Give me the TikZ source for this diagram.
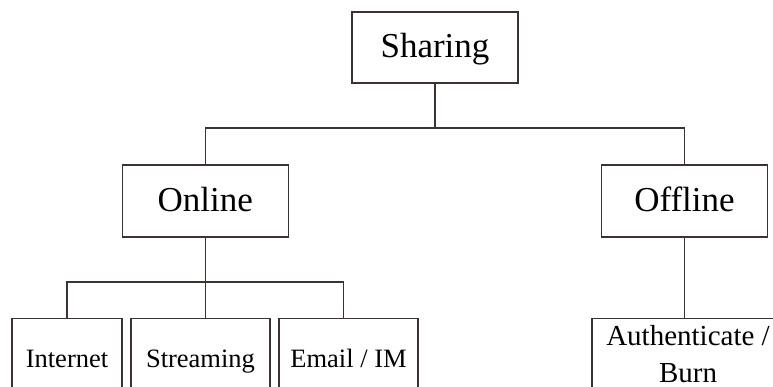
\documentclass[tikz,border=0pt]{standalone}
\usepackage{fontspec}
\setmainfont{Liberation Serif}
\definecolor{linegray}{RGB}{60,50,48}
\tikzset{
  box/.style={draw=linegray, line width=1.2pt, inner sep=0pt, minimum height=72pt},
  topbox/.style={box, minimum width=166pt, font=\fontsize{35}{40}\selectfont,
    text height=24pt, text depth=3.5pt},
  leafbox/.style={box, anchor=north, minimum height=80pt,
    font=\fontsize{26.5}{36.7}\selectfont, text height=20pt, text depth=2.6pt},
  link/.style={draw=linegray, line width=1.2pt}
}
\begin{document}
\begin{tikzpicture}[x=1pt,y=-1pt]
  \clip (0,0) rectangle (773,387);
  \fill[white] (0,0) rectangle (773,387);

  % Root and its two branches
  \node[topbox, minimum height=71pt] (sharing) at (435,47.5) {Sharing};
  \node[topbox] (online) at (205.3,201) {Online};
  \node[topbox] (offline) at (684.5,201) {Offline};

  % Leaves
  \node[leafbox, minimum width=110pt] (internet) at (67,318) {Internet};
  \node[leafbox, minimum width=139pt] (streaming) at (200.5,318) {Streaming};
  \node[leafbox, minimum width=139pt] (emailim) at (348.5,318) {Email / IM};
  \node[box, anchor=north, minimum width=192pt, minimum height=71pt, align=center,
    font=\fontsize{29}{37}\selectfont] (authburn) at (688,318) {Authenticate /\\Burn};

  % Connectors
  \coordinate (topbus) at (435,128);
  \coordinate (lowbus) at (205.3,282);
  \draw[link] (sharing.south) -- (topbus);
  \draw[link] (online.north) |- (topbus) -| (offline.north);
  \draw[link] (online.south) -- (online.south |- streaming.north);
  \draw[link] (internet.north) |- (lowbus) -| ([xshift=-5pt]emailim.north);
  \draw[link] (offline.south) -- (offline.south |- authburn.north);
\end{tikzpicture}
\end{document}
